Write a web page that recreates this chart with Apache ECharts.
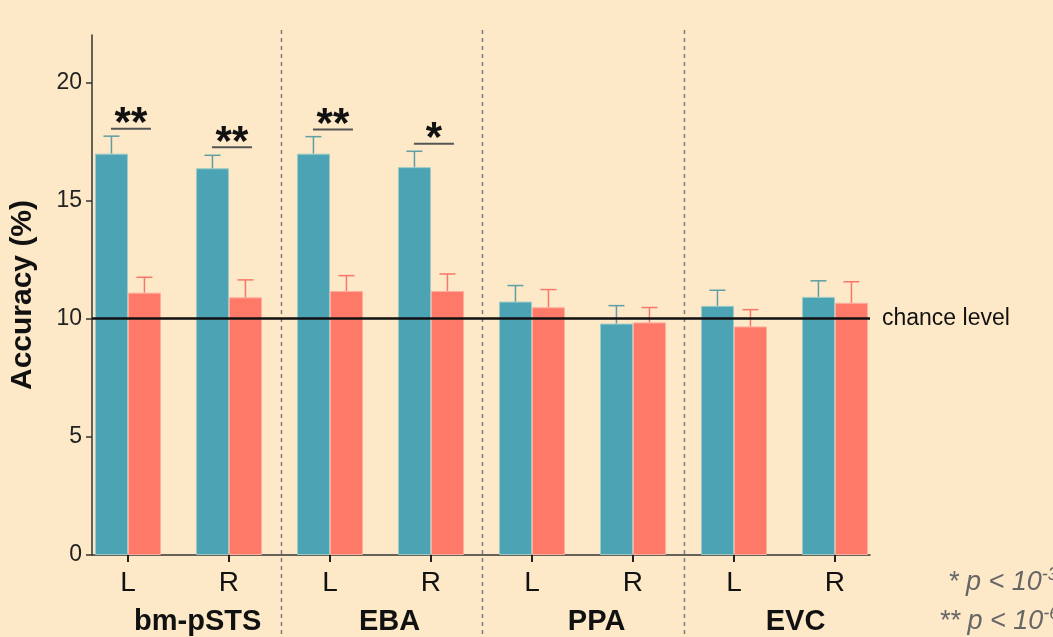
<!DOCTYPE html>
<html>
<head>
<meta charset="utf-8">
<style>
  html, body { margin: 0; padding: 0; background: #fde9c8; }
  #chart { width: 1053px; height: 637px; }
</style>
<script src="https://cdn.jsdelivr.net/npm/echarts@6/dist/echarts.min.js"></script>
</head>
<body>
<div id="chart"></div>
<script>
// hemisphere of each bar pair, and the four regions
const sides = ['L', 'R', 'L', 'R', 'L', 'R', 'L', 'R'];
const regions = ['bm-pSTS', 'EBA', 'PPA', 'EVC'];
const regionLabelPos = [0.69, 2.59, 4.64, 6.61];
const separators = [1.52, 3.51, 5.51];

// accuracy (%) mean and SEM
const tealMean = [16.98, 16.36, 16.98, 16.41, 10.72, 9.79, 10.54, 10.92];
const tealErr  = [0.74, 0.55, 0.72, 0.67, 0.68, 0.76, 0.66, 0.68];
const redMean  = [11.10, 10.90, 11.17, 11.17, 10.48, 9.84, 9.67, 10.67];
const redErr   = [0.65, 0.74, 0.65, 0.72, 0.75, 0.63, 0.71, 0.89];

// significance brackets
const sigPos = [0, 1, 2, 3];
const sigHeight = [18.03, 17.25, 18.0, 17.4];
const sigMark = ['**', '**', '**', '*'];

const yTicks = [0, 5, 10, 15, 20];
const xTicks = [0, 1, 2, 3, 4, 5, 6, 7];
const chance = 10;

const FONT = "'Liberation Sans', Arial, sans-serif";
const TEAL = '#4ba3b4';
const RED = '#ff7969';
const BAR_W = 33;

const chart = echarts.init(document.getElementById('chart'));

const errorSeries = (means, errs, color, dx) => ({
    type: 'custom',
    z: 3,
    silent: true,
    data: means.map((m, i) => [i, m, m + errs[i]]),
    encode: { x: 0, y: [1, 2] },
    renderItem: (params, api) => {
        const base = api.coord([api.value(0), api.value(1)]);
        const top = api.coord([api.value(0), api.value(2)]);
        const x = base[0] + dx;
        return {
            type: 'group',
            children: [
                { type: 'line', shape: { x1: x, y1: base[1], x2: x, y2: top[1] }, style: { stroke: color, lineWidth: 1.5 } },
                { type: 'line', shape: { x1: x - 8, y1: top[1], x2: x + 8, y2: top[1] }, style: { stroke: color, lineWidth: 1.5 } }
            ]
        };
    }
});

chart.setOption({
    backgroundColor: '#fde9c8',
    animation: false,
    grid: { left: 92, right: 183, top: 35, bottom: 82, containLabel: false, outerBoundsMode: 'none' },
    xAxis: [{
        type: 'value',
        min: -0.356,
        max: 7.347,
        splitLine: { show: false },
        axisLine: { show: true, onZero: false, lineStyle: { color: '#333', width: 1.5 } },
        axisTick: { show: true, customValues: xTicks, length: 7, lineStyle: { color: '#222', width: 2 } },
        axisLabel: {
            customValues: xTicks,
            formatter: v => sides[Math.round(v)],
            fontFamily: FONT, fontSize: 28, color: '#111', margin: 14
        }
    }, {
        type: 'value',
        position: 'bottom',
        min: -0.356,
        max: 7.347,
        splitLine: { show: false },
        axisLine: { show: false, onZero: false },
        axisTick: { show: false },
        axisLabel: {
            customValues: regionLabelPos,
            formatter: v => regions[regionLabelPos.indexOf(v)],
            fontFamily: FONT, fontSize: 29, fontWeight: 'bold', color: '#111', margin: 52
        }
    }],
    yAxis: {
        type: 'value',
        min: 0,
        max: 22,
        splitLine: { show: false },
        axisLine: { show: true, onZero: false, lineStyle: { color: '#333', width: 1.5 } },
        axisTick: { show: true, customValues: yTicks, length: 6, lineStyle: { color: '#333', width: 1.5 } },
        axisLabel: { customValues: yTicks, fontFamily: FONT, fontSize: 23, color: '#222', margin: 10 },
        name: 'Accuracy (%)',
        nameLocation: 'middle',
        nameGap: 54,
        nameTextStyle: { fontFamily: FONT, fontSize: 30, fontWeight: 'bold', color: '#111' }
    },
    series: [{
        type: 'bar',
        barWidth: BAR_W,
        barGap: '0%',
        data: tealMean.map((v, i) => [i, v]),
        itemStyle: { color: TEAL, borderColor: '#9dcbc6', borderWidth: 1 },
        markLine: {
            silent: true,
            symbol: 'none',
            lineStyle: { color: '#111', width: 2.5, type: 'solid' },
            label: { show: true, position: 'end', formatter: 'chance level', fontFamily: FONT, fontSize: 23, color: '#111', distance: 12 },
            data: [{ yAxis: chance }]
        }
    }, {
        type: 'bar',
        barWidth: BAR_W,
        data: redMean.map((v, i) => [i, v]),
        itemStyle: { color: RED, borderColor: '#ffae9e', borderWidth: 1 }
    },
    errorSeries(tealMean, tealErr, '#5e9ea4', -BAR_W / 2),
    errorSeries(redMean, redErr, '#f8776a', BAR_W / 2),
    {
        // dashed separators between regions
        type: 'custom',
        silent: true,
        z: 1,
        data: separators.map(v => [v, 0]),
        encode: { x: 0, y: 1 },
        renderItem: (params, api) => {
            const x = api.coord([api.value(0), 0])[0];
            return {
                type: 'line',
                shape: { x1: x, y1: 30, x2: x, y2: 637 },
                style: { stroke: '#7a7a7a', lineWidth: 1.5, lineDash: [4, 4] }
            };
        }
    }, {
        // significance markers
        type: 'custom',
        silent: true,
        z: 4,
        data: sigPos.map((p, i) => [p, sigHeight[i]]),
        encode: { x: 0, y: 1 },
        renderItem: (params, api) => {
            const c = api.coord([api.value(0), api.value(1)]);
            const cx = c[0] + 3;
            return {
                type: 'group',
                children: [
                    { type: 'line', shape: { x1: cx - 20, y1: c[1], x2: cx + 20, y2: c[1] }, style: { stroke: '#555', lineWidth: 2 } },
                    { type: 'text', x: cx, y: c[1] + 17, style: { text: sigMark[params.dataIndex], align: 'center', verticalAlign: 'bottom', font: 'bold 42px ' + FONT, fill: '#111' } }
                ]
            };
        }
    }],
    graphic: [{
        type: 'text',
        left: 948,
        top: 566,
        style: {
            text: '{a|* p < 10}{b|-3}',
            rich: {
                a: { fontFamily: FONT, fontSize: 27, fontStyle: 'italic', fill: '#666' },
                b: { fontFamily: FONT, fontSize: 18, fontStyle: 'italic', fill: '#666', padding: [0, 0, 15, 0] }
            }
        }
    }, {
        type: 'text',
        left: 939,
        top: 605,
        style: {
            text: '{a|** p < 10}{b|-6}',
            rich: {
                a: { fontFamily: FONT, fontSize: 27, fontStyle: 'italic', fill: '#666' },
                b: { fontFamily: FONT, fontSize: 18, fontStyle: 'italic', fill: '#666', padding: [0, 0, 15, 0] }
            }
        }
    }]
});

window.addEventListener('resize', () => chart.resize());
</script>
</body>
</html>
